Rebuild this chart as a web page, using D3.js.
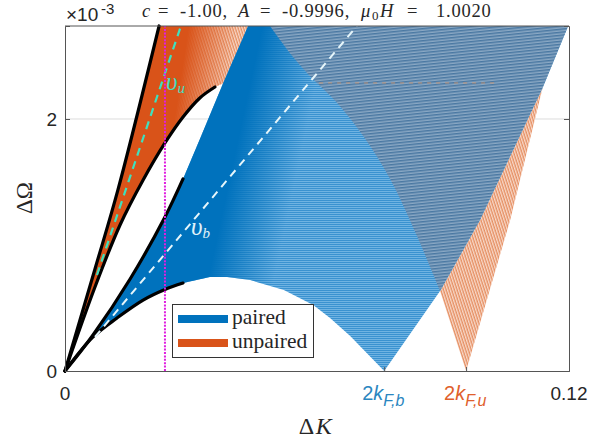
<!DOCTYPE html>
<html>
<head>
<meta charset="utf-8">
<script src="https://d3js.org/d3.v7.min.js"></script>
<style>
  html, body { margin: 0; padding: 0; background: #fff; }
  svg { display: block; }
  .tick-label { font-family: "Liberation Sans", sans-serif; font-size: 19px; fill: #262626; }
  .math { font-family: "Liberation Serif", serif; fill: #262626; }
  .axis path, .axis line { stroke: #555; }
</style>
</head>
<body>
<svg id="chart" width="591" height="445"></svg>
<script>
// all values, dK in units of 1, dOmega in units of 1e-3
const unpairedUpperK = [0, 0.00714, 0.0126, 0.0224];
const unpairedUpperW = [0, 0.81, 1.437, 2.738];
const unpairedLowerK = [0, 0.00714, 0.0131, 0.0186, 0.0238, 0.0281, 0.0321, 0.0357];
const unpairedLowerW = [0, 0.667, 1.159, 1.516, 1.81, 2.016, 2.167, 2.254];
const unpairedEdgeK = [0.0464, 0.0388];
const unpairedEdgeW = [2.738, 2.3];

const pairedUpperK = [0, 0.00667, 0.0155, 0.0238, 0.0281];
const pairedUpperW = [0, 0.286, 0.73, 1.222, 1.524];
const pairedLowerK = [0, 0.00667, 0.0124, 0.0186, 0.0238, 0.0281];
const pairedLowerW = [0, 0.27, 0.421, 0.563, 0.647, 0.698];
const pairedEdgeK = [0.0321, 0.0376, 0.0436];
const pairedEdgeW = [1.84, 2.28, 2.738];
const archK = [0.0345, 0.0386, 0.0441, 0.0521, 0.0591, 0.0631, 0.0679, 0.076];
const archW = [0.746, 0.746, 0.722, 0.643, 0.524, 0.421, 0.278, 0];
const rightEdgeK = [0.076, 0.0893, 0.0988, 0.1138, 0.1198];
const rightEdgeW = [0, 0.635, 1.198, 2.254, 2.738];

const overlapK = [0.0488, 0.0543, 0.059, 0.0648, 0.071, 0.0774, 0.0838, 0.0893];
const overlapW = [2.738, 2.492, 2.317, 2.127, 1.865, 1.524, 1.071, 0.635];
const unpairedRightK = [0.0955, 0.106, 0.1143];
const unpairedRightW = [0, 1.198, 2.325];
const seamK = [0.0605, 0.103];
const seamW = [2.286, 2.286];

const vuK = [0.00762, 0.0276];
const vuW = [0.762, 2.738];
const vbK = [0.00714, 0.0695];
const vbW = [0.27, 2.738];
const markerK = 0.0238;

const xTicks = [0, 0.076, 0.0955, 0.12];
const yTicks = [0, 2];
const legendNames = ["paired", "unpaired"];
const blue = "#0072BD", orange = "#D95319";

const xy = (ks, ws) => ks.map((k, i) => [k, ws[i]]);

const svg = d3.select("#chart");
const x = d3.scaleLinear().domain([0, 0.12]).range([65, 569]);
const y = d3.scaleLinear().domain([0, 2.738]).range([371, 26]);

const smooth = d3.line().x(d => x(d[0])).y(d => y(d[1])).curve(d3.curveCatmullRom);
const straight = d3.line().x(d => x(d[0])).y(d => y(d[1]));

// fine hatching of the regions, the picture has hundreds of thin curves here
const defs = svg.append("defs");
function hatch(id, size, angle, bg, lines) {
  const p = defs.append("pattern").attr("id", id).attr("patternUnits", "userSpaceOnUse")
    .attr("width", size).attr("height", size)
    .attr("patternTransform", `rotate(${angle})`);
  p.append("rect").attr("width", size).attr("height", size).attr("fill", bg);
  lines.forEach(l => p.append("rect").attr("y", l[0]).attr("width", size).attr("height", l[1]).attr("fill", l[2]));
}
hatch("hBlue", 2, 0, "#6fb3e2", [[0, 1, "#3a92d0"]]);
hatch("hOrange", 2.6, 72, "#f8d8c8", [[0, 1.3, "#e58f62"]]);
hatch("hBoth", 3, -6, "#8aa8c4", [[0, 1.5, "#4a78a2"]]);

function fade(id, x1, y1, x2, y2, color) {
  const g = defs.append("linearGradient").attr("id", id).attr("gradientUnits", "userSpaceOnUse")
    .attr("x1", x1).attr("y1", y1).attr("x2", x2).attr("y2", y2);
  g.append("stop").attr("offset", 0.1).attr("stop-color", color).attr("stop-opacity", 1);
  g.append("stop").attr("offset", 1).attr("stop-color", color).attr("stop-opacity", 0);
}
fade("fBlue", 205, 260, 275, 275, blue);
fade("fOrange", 172, 100, 225, 108, orange);

const plot = svg.append("g");

// grid line
plot.append("line").attr("x1", x(0)).attr("x2", x(0.12)).attr("y1", y(2)).attr("y2", y(2))
  .attr("stroke", "#dcdcdc").attr("stroke-width", 1);

// unpaired fan from the origin
const unpairedFan = [...xy(unpairedUpperK, unpairedUpperW),
  ...xy(unpairedEdgeK, unpairedEdgeW),
  ...xy(unpairedLowerK, unpairedLowerW).reverse()];
["url(#hOrange)", "url(#fOrange)"].forEach(f =>
  plot.append("path").attr("d", straight(unpairedFan) + "Z").attr("fill", f));

// unpaired fan from 2k_F,u
const unpairedTri = [[overlapK[7], overlapW[7]], ...xy(unpairedRightK, unpairedRightW),
  ...xy(rightEdgeK.slice(1, 4), rightEdgeW.slice(1, 4)).reverse()];
plot.append("path").attr("d", straight(unpairedTri) + "Z").attr("fill", "url(#hOrange)");

// paired region
const pairedBody = [...xy(pairedUpperK, pairedUpperW),
  ...xy(pairedEdgeK, pairedEdgeW),
  ...xy(rightEdgeK, rightEdgeW).reverse(),
  ...xy(archK, archW).reverse(),
  ...xy(pairedLowerK, pairedLowerW).reverse()];
["url(#hBlue)", "url(#fBlue)"].forEach(f =>
  plot.append("path").attr("d", straight(pairedBody) + "Z").attr("fill", f));

// overlap of both
const overlap = [...xy(overlapK, overlapW), ...xy(rightEdgeK.slice(2), rightEdgeW.slice(2))];
plot.append("path").attr("d", smooth(overlap.slice(0, 8)) + "L" + overlap.slice(8).map(d => `${x(d[0])},${y(d[1])}`).join("L") + "Z")
  .attr("fill", "url(#hBoth)");
plot.append("path").attr("d", straight(xy(seamK, seamW))).attr("fill", "none")
  .attr("stroke", "#e0935f").attr("stroke-width", 1).attr("stroke-dasharray", "4 5").attr("opacity", 0.7);

// black envelopes
[xy(unpairedUpperK, unpairedUpperW), xy(unpairedLowerK, unpairedLowerW),
 xy(pairedUpperK, pairedUpperW), xy(pairedLowerK, pairedLowerW)].forEach(c =>
  plot.append("path").attr("d", smooth(c)).attr("fill", "none")
    .attr("stroke", "#000").attr("stroke-width", 3.2).attr("stroke-linecap", "round"));

// velocities
plot.append("path").attr("d", straight(xy(vuK, vuW))).attr("fill", "none")
  .attr("stroke", "#3fe0bd").attr("stroke-width", 2.2).attr("stroke-dasharray", "8 6");
plot.append("path").attr("d", straight(xy(vbK, vbW))).attr("fill", "none")
  .attr("stroke", "#e6f6fb").attr("stroke-width", 2).attr("stroke-dasharray", "8 6");
plot.append("line").attr("x1", x(markerK)).attr("x2", x(markerK)).attr("y1", y(0)).attr("y2", y(2.738))
  .attr("stroke", "#e01fe0").attr("stroke-width", 2).attr("stroke-dasharray", "2 1.4");

plot.append("text").attr("class", "math").attr("x", 166).attr("y", 90).attr("font-size", 25)
  .attr("font-style", "italic").style("fill", "#45dcc0").text("υ")
  .append("tspan").attr("font-size", 15).attr("dy", 3).text("u");
plot.append("text").attr("class", "math").attr("x", 191).attr("y", 235).attr("font-size", 25)
  .attr("font-style", "italic").style("fill", "#e0f2fa").text("υ")
  .append("tspan").attr("font-size", 15).attr("dy", 3).text("b");

// axes box
svg.append("g").attr("class", "axis").attr("transform", `translate(0,${y(0)})`)
  .call(d3.axisBottom(x).tickValues(xTicks).tickSize(-4).tickFormat(""));
svg.append("g").attr("class", "axis").attr("transform", `translate(${x(0)},0)`)
  .call(d3.axisLeft(y).tickValues(yTicks).tickSize(-5).tickFormat(""));
svg.append("g").attr("class", "axis").attr("transform", `translate(${x(0.12)},0)`)
  .call(d3.axisRight(y).tickValues(yTicks).tickSize(-5).tickFormat(""));
svg.append("line").attr("x1", x(0)).attr("x2", x(0.12)).attr("y1", y(2.738)).attr("y2", y(2.738)).attr("stroke", "#555");

yTicks.forEach(t => svg.append("text").attr("class", "tick-label").attr("text-anchor", "end")
  .attr("x", 57).attr("y", y(t) + 7).text(t));

svg.append("text").attr("class", "tick-label").attr("x", x(0)).attr("y", 400).attr("text-anchor", "middle").text("0");
svg.append("text").attr("class", "tick-label").attr("x", x(0.12)).attr("y", 400).attr("text-anchor", "middle").text("0.12");

function fermiLabel(k, sub, color) {
  const t = svg.append("text").attr("class", "tick-label").attr("x", x(k) - 22).attr("y", 400)
    .style("font-size", "20px").style("fill", color);
  t.append("tspan").text("2");
  t.append("tspan").attr("font-style", "italic").text("k");
  t.append("tspan").attr("font-style", "italic").style("font-size", "16px").attr("dy", 6).text(sub);
}
fermiLabel(xTicks[1], "F,b", "#2a86c0");
fermiLabel(xTicks[2], "F,u", "#e0602c");

// exponent and title
svg.append("text").attr("class", "tick-label").attr("x", 66).attr("y", 21).text("×10");
svg.append("text").attr("class", "tick-label").style("font-size", "15px").attr("x", 101).attr("y", 14).text("-3");

const titleParts = [
  { x: 142, text: "c", italic: true }, { x: 158, text: "=" }, { x: 180, text: "-1.00," },
  { x: 238, text: "A", italic: true }, { x: 260, text: "=" }, { x: 282, text: "-0.9996," },
  { x: 361, text: "μ", italic: true }, { x: 372, text: "0", sub: true }, { x: 380, text: "H", italic: true },
  { x: 407, text: "=" }, { x: 436, text: "1.0020" }
];
svg.append("g").selectAll("text").data(titleParts).join("text").attr("class", "math")
  .attr("x", d => d.x).attr("y", d => d.sub ? 20 : 17)
  .attr("font-size", d => d.sub ? 13 : 18.5)
  .attr("letter-spacing", 0.8)
  .attr("font-style", d => d.italic ? "italic" : "normal")
  .text(d => d.text);

const xLabel = svg.append("text").attr("class", "math").attr("x", 316).attr("y", 434)
  .attr("text-anchor", "middle").attr("font-size", 24).attr("letter-spacing", 1.5);
xLabel.append("tspan").text("Δ");
xLabel.append("tspan").attr("font-style", "italic").text("K");
svg.append("text").attr("class", "math").attr("font-size", 23).attr("text-anchor", "middle")
  .attr("transform", "translate(32,198) rotate(-90)").text("ΔΩ");

// legend
const legend = svg.append("g");
legend.append("rect").attr("x", 172.5).attr("y", 304.5).attr("width", 141).attr("height", 53)
  .attr("fill", "#fff").attr("stroke", "#333").attr("stroke-width", 1);
legendNames.forEach((name, i) => {
  const cy = 319 + i * 24;
  legend.append("rect").attr("x", 178).attr("y", cy - 4).attr("width", 50).attr("height", 8)
    .attr("fill", i ? orange : blue);
  legend.append("text").attr("class", "math").attr("x", 232).attr("y", cy + 5).attr("font-size", 21.5).text(name);
});
</script>
</body>
</html>
